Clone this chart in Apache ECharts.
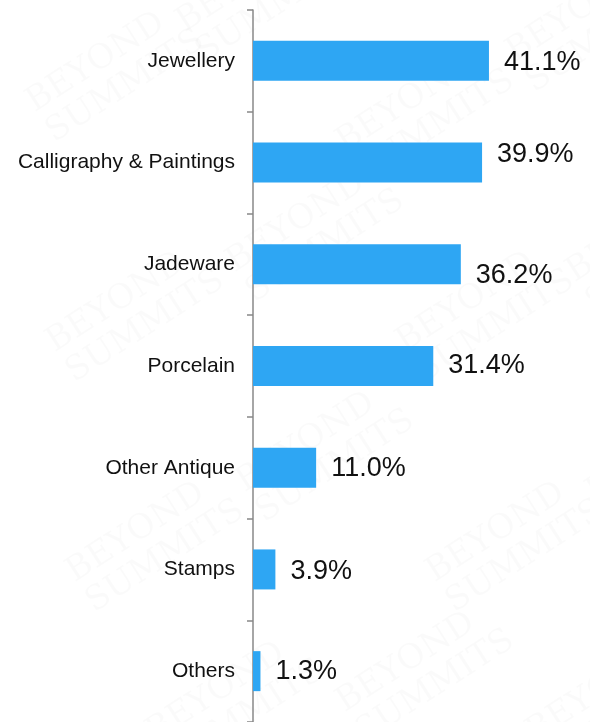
<!DOCTYPE html>
<html>
<head>
<meta charset="utf-8">
<style>
  html, body { margin: 0; padding: 0; background: #ffffff; }
  #chart { width: 590px; height: 722px; }
</style>
<script src="https://cdn.jsdelivr.net/npm/echarts@6/dist/echarts.min.js"></script>
</head>
<body>
<div id="chart"></div>
<script>
// Collectibles categories, top to bottom
const categories = ['Jewellery', 'Calligraphy & Paintings', 'Jadeware', 'Porcelain', 'Other Antique', 'Stamps', 'Others'];
// Share of respondents (%)
const shares = [41.1, 39.9, 36.2, 31.4, 11.0, 3.9, 1.3];
// Vertical nudge of each value label (px)
const labelShift = [2, -8, 11, 0, 1, 2, 0];

const chart = echarts.init(document.getElementById('chart'), null, { renderer: 'canvas' });

// Faint background watermark
const marks = [];
const spots = [
  [20, 90], [170, 10], [330, 130], [500, 40],
  [40, 330], [220, 250], [390, 330], [560, 260],
  [60, 560], [230, 470], [420, 560], [580, 480],
  [140, 720], [330, 690], [520, 720]
];
spots.forEach(function (p) {
  marks.push({
    type: 'text', x: p[0], y: p[1], rotation: Math.PI / 5.5, z: -10, silent: true,
    style: { text: 'BEYOND\nSUMMITS', font: '34px "DejaVu Serif", serif', fill: 'rgba(0,0,0,0.018)', lineHeight: 36 }
  });
});

chart.setOption({
  backgroundColor: '#ffffff',
  animation: false,
  graphic: marks,
  grid: { left: 253, top: 10, right: 0, height: 714, containLabel: false },
  xAxis: {
    type: 'value', min: 0, max: 58.7, show: false
  },
  yAxis: {
    type: 'category',
    data: categories,
    inverse: true,
    boundaryGap: true,
    axisLine: { show: true, lineStyle: { color: '#888888', width: 1.5 } },
    axisTick: { show: true, inside: false, length: 6, lineStyle: { color: '#888888', width: 1.5 } },
    axisLabel: {
      margin: 18,
      color: '#111111',
      fontFamily: '"Liberation Sans", Arial, sans-serif',
      fontSize: 21
    },
    splitLine: { show: false }
  },
  series: [{
    type: 'bar',
    barWidth: 40,
    data: shares.map(function (v, i) {
      return { value: v, label: { offset: [0, labelShift[i]] } };
    }),
    itemStyle: { color: '#2ea6f3' },
    label: {
      show: true,
      position: 'right',
      distance: 15,
      color: '#111111',
      fontFamily: '"Liberation Sans", Arial, sans-serif',
      fontSize: 27,
      formatter: function (p) { return p.value.toFixed(1) + '%'; }
    }
  }]
});
</script>
</body>
</html>
